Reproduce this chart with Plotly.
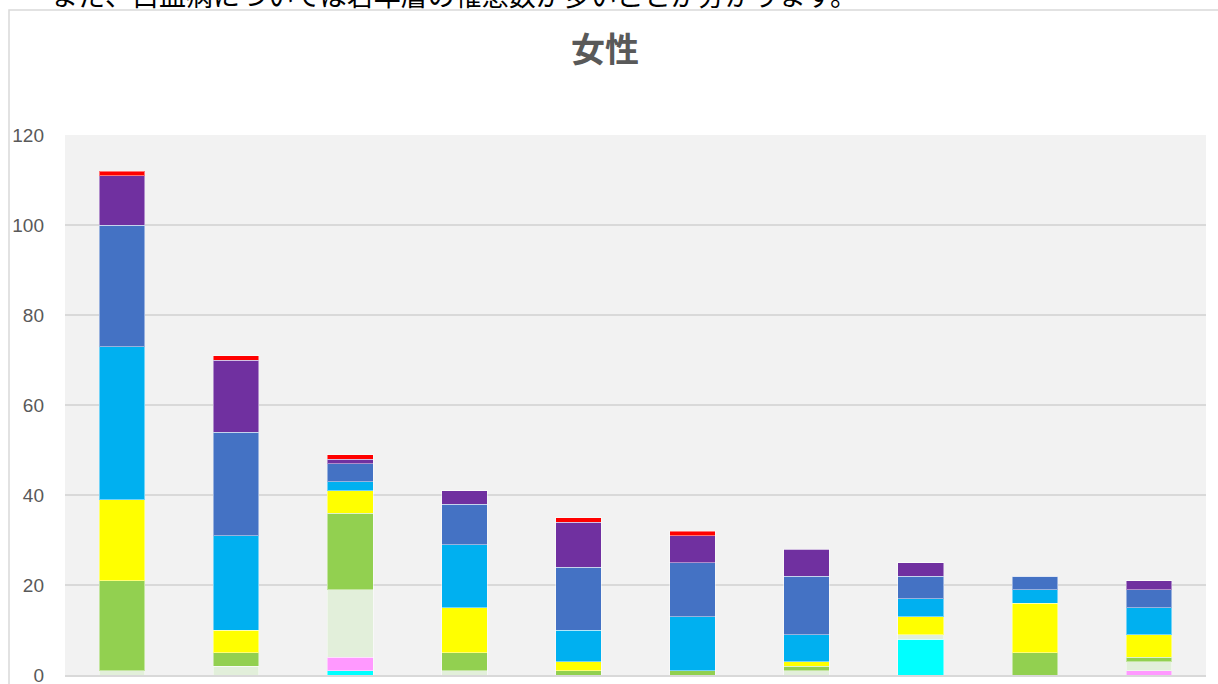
import plotly.graph_objects as go

categories = ["C1", "C2", "C3", "C4", "C5", "C6", "C7", "C8", "C9", "C10"]

series_names = ["S1", "S2", "S3", "S4", "S5", "S6", "S7", "S8", "S9"]
series_colors = ["#00FFFF", "#FF99FF", "#E2EFDA", "#92D050", "#FFFF00",
                 "#00B0F0", "#4472C4", "#7030A0", "#FF0000"]

s1_cyan = [0, 0, 1, 0, 0, 0, 0, 8, 0, 0]
s2_pink = [0, 0, 3, 0, 0, 0, 0, 0, 0, 1]
s3_lightgreen = [1, 2, 15, 1, 0, 0, 1, 1, 0, 2]
s4_green = [20, 3, 17, 4, 1, 1, 1, 0, 5, 1]
s5_yellow = [18, 5, 5, 10, 2, 0, 1, 4, 11, 5]
s6_lightblue = [34, 21, 2, 14, 7, 12, 6, 4, 3, 6]
s7_blue = [27, 23, 4, 9, 14, 12, 13, 5, 3, 4]
s8_purple = [11, 16, 1, 3, 10, 6, 6, 3, 0, 2]
s9_red = [1, 1, 1, 0, 1, 1, 0, 0, 0, 0]

series_values = [s1_cyan, s2_pink, s3_lightgreen, s4_green, s5_yellow,
                 s6_lightblue, s7_blue, s8_purple, s9_red]

y_ticks = [0, 20, 40, 60, 80, 100, 120]
title_text = "女性"
caption_text = "また、白血病については若年層の罹患数が多いことが分かります。"

fig = go.Figure()
for name, color, vals in zip(series_names, series_colors, series_values):
    fig.add_trace(go.Bar(
        x=categories, y=vals, name=name,
        marker=dict(color=color, line=dict(color="rgba(255,255,255,0.45)", width=1)),
    ))

W, H = 1218, 684
L, R, T, B = 65, 12, 135, 9
pw = W - L - R
ph = H - T - B

def px_x(x):
    return (x - L) / pw

def px_y(y):
    return (H - B - y) / ph

fig.update_layout(
    width=W, height=H,
    barmode="stack", bargap=0.6,
    showlegend=False,
    paper_bgcolor="white",
    plot_bgcolor="#F2F2F2",
    margin=dict(l=L, r=R, t=T, b=B, pad=0),
    font=dict(family="Noto Sans CJK JP, Noto Sans, sans-serif", color="#595959"),
    xaxis=dict(showticklabels=False, showgrid=False, zeroline=False,
               showline=True, linecolor="#D9D9D9", linewidth=1.5, ticks=""),
    yaxis=dict(range=[0, 120], tickvals=y_ticks, showgrid=True,
               gridcolor="#D9D9D9", gridwidth=1.5, zeroline=False,
               tickfont=dict(size=19, color="#595959",
                             family="Liberation Sans, Noto Sans, sans-serif"),
               ticks="", ticklabelstandoff=20, ticklabeloverflow="allow",
               automargin=False),
    shapes=[dict(type="rect", xref="paper", yref="paper",
                 x0=px_x(9), x1=px_x(1240), y0=px_y(10), y1=px_y(720),
                 line=dict(color="#D9D9D9", width=1.5), fillcolor="rgba(0,0,0,0)",
                 layer="below")],
    annotations=[
        dict(text="<b>" + title_text + "</b>", xref="paper", yref="paper",
             x=px_x(605), y=px_y(47), xanchor="center", yanchor="middle",
             showarrow=False, font=dict(size=34, color="#595959",
                                        family="Noto Sans CJK JP")),
        dict(text=caption_text, xref="paper", yref="paper",
             x=px_x(49), y=px_y(-5), xanchor="left", yanchor="middle",
             showarrow=False, font=dict(size=27, color="#000000",
                                        family="Noto Sans CJK JP")),
    ],
)

fig.write_html("out.html", config={"displayModeBar": False},
               post_script="document.body.style.margin='0';document.body.style.overflow='hidden';")
